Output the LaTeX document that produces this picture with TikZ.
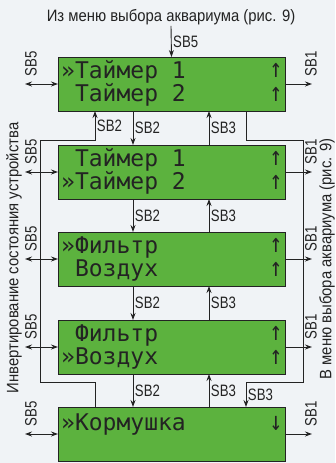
\documentclass[tikz,border=0pt]{standalone}
\usepackage{fontspec}
\setmainfont{Liberation Sans}
\newfontfamily\lcdfont{DejaVu Sans Mono}
\newfontfamily\sbfont[FakeStretch=0.8]{Liberation Sans}
\newfontfamily\notefont[FakeStretch=0.9]{Liberation Sans}
\usetikzlibrary{arrows.meta}
\definecolor{lcdgreen}{RGB}{92,178,62}
\definecolor{paper}{RGB}{240,243,246}
\definecolor{ink}{RGB}{35,35,35}
\newcommand{\tallup}{\scalebox{1}[1.25]{↑}}
\newcommand{\talldown}{\scalebox{1}[1.25]{↓}}

\begin{document}
\begin{tikzpicture}[x=1pt,y=-1pt,
    lcd/.style={draw=ink,line width=1pt,fill=lcdgreen,minimum width=227pt,
      minimum height=54pt,inner sep=0pt,outer sep=0pt},
    row/.style={font=\lcdfont\fontsize{23}{23}\selectfont,text=ink,
      inner sep=0pt,anchor=base west},
    arr/.style={font=\lcdfont\fontsize{21}{21}\selectfont,text=ink,
      inner sep=0pt,anchor=base},
    lbl/.style={font=\sbfont\fontsize{16.5}{16.5}\selectfont,text=ink,inner sep=1.5pt},
    note/.style={font=\notefont\fontsize{16.5}{16.5}\selectfont,text=ink,inner sep=1pt},
    wire/.style={draw=ink,line width=0.9pt},
    >={Stealth[length=7pt,width=5pt]}]
  \fill[paper] (0,0) rectangle (335,463);
  \useasboundingbox (0,0) rectangle (335,463);

  % the five screens
  \draw (171.5,84) node[lcd] (T1) {};
  \draw (171.5,172) node[lcd] (T2) {};
  \draw (171.5,259) node[lcd] (F1) {};
  \draw (171.5,347) node[lcd] (F2) {};
  \draw (171.5,434) node[lcd] (K) {};

  \node[row] (T1r1) at ([shift={(3,21)}]T1.north west) {»Таймер 1};
  \node[row] (T1r2) at ([shift={(3,44)}]T1.north west) {\phantom{»}Таймер 2};
  \node[arr] (T1u1) at ([shift={(-9,20)}]T1.north east) {\tallup};
  \node[arr] (T1u2) at ([shift={(-9,44)}]T1.north east) {\tallup};

  \node[row] (T2r1) at ([shift={(3,21)}]T2.north west) {\phantom{»}Таймер 1};
  \node[row] (T2r2) at ([shift={(3,44)}]T2.north west) {»Таймер 2};
  \node[arr] (T2u1) at ([shift={(-9,20)}]T2.north east) {\tallup};
  \node[arr] (T2u2) at ([shift={(-9,44)}]T2.north east) {\tallup};

  \node[row] (F1r1) at ([shift={(3,21)}]F1.north west) {»Фильтр};
  \node[row] (F1r2) at ([shift={(3,44)}]F1.north west) {\phantom{»}Воздух};
  \node[arr] (F1u1) at ([shift={(-9,20)}]F1.north east) {\tallup};
  \node[arr] (F1u2) at ([shift={(-9,44)}]F1.north east) {\tallup};

  \node[row] (F2r1) at ([shift={(3,21)}]F2.north west) {\phantom{»}Фильтр};
  \node[row] (F2r2) at ([shift={(3,44)}]F2.north west) {»Воздух};
  \node[arr] (F2u1) at ([shift={(-9,20)}]F2.north east) {\tallup};
  \node[arr] (F2u2) at ([shift={(-9,44)}]F2.north east) {\tallup};

  \node[row] (Kr1) at ([shift={(3,23)}]K.north west) {»Кормушка};
  \node[arr] (Kd1) at ([shift={(-9,23)}]K.north east) {\talldown};

  % entry from above
  \node[note] (src) at (171,17) {Из меню выбора аквариума (рис. 9)};
  \draw[wire,->] (src.south) -- (T1.north) node[lbl,midway,right] (in5) {SB5};

  % side texts
  \node[note,rotate=90] (inv) at (14,258) {Инвертирование состояния устройства};
  \node[note,rotate=90] (back) at (327,259) {В меню выбора аквариума (рис. 9)};

  \coordinate (dn) at (133,0);
  \coordinate (up) at (209,0);
  \coordinate (wl) at (95,0);
  \coordinate (wr) at (246,0);
  \coordinate (lt) at (40,140);
  \coordinate (lb) at (40,382);
  \coordinate (rt) at (303,140);
  \coordinate (rb) at (303,382);
  \coordinate (sl) at (25,0);
  \coordinate (sr) at (312,0);

  % SB2 down, SB3 up
  \draw[wire,->] (T1.south -| dn) -- (T2.north -| dn) node[lbl,midway,right] (d1) {SB2};
  \draw[wire,->] (T2.south -| dn) -- (F1.north -| dn) node[lbl,midway,right] (d2) {SB2};
  \draw[wire,->] (F1.south -| dn) -- (F2.north -| dn) node[lbl,midway,right] (d3) {SB2};
  \draw[wire,->] (F2.south -| dn) -- (K.north -| dn) node[lbl,midway,right] (d4) {SB2};
  \draw[wire,->] (T2.north -| up) -- (T1.south -| up) node[lbl,midway,right] (u1) {SB3};
  \draw[wire,->] (F1.north -| up) -- (T2.south -| up) node[lbl,midway,right] (u2) {SB3};
  \draw[wire,->] (F2.north -| up) -- (F1.south -| up) node[lbl,midway,right] (u3) {SB3};
  \draw[wire,->] (K.north -| up) -- (F2.south -| up) node[lbl,midway,right] (u4) {SB3};

  % wrap round
  \draw[wire,->] (K.north -| wl) -- (wl |- lb) -- (lb) -- (lt) -- (wl |- lt)
    -- (T1.south -| wl) node[lbl,midway,right] (w1) {SB2};
  \draw[wire,->] (T1.south -| wr) -- (wr |- rt) -- (rt) -- (rb) -- (wr |- rb)
    -- (K.north -| wr) node[lbl,midway,right] (w2) {SB3};

  % SB5 left, SB1 right
  \draw[wire,<->] (T1.west -| sl) -- (T1.west);
  \draw[wire,<->] (T2.west -| sl) -- (T2.west);
  \draw[wire,<->] (F1.west -| sl) -- (F1.west);
  \draw[wire,<->] (F2.west -| sl) -- (F2.west);
  \draw[wire,<->] (K.west -| sl) -- (K.west);
  \node[lbl,rotate=90,anchor=west] (s1) at ([shift={(6,-6)}]T1.west -| sl) {SB5};
  \node[lbl,rotate=90,anchor=west] (s2) at ([shift={(6,-6)}]T2.west -| sl) {SB5};
  \node[lbl,rotate=90,anchor=west] (s3) at ([shift={(6,-6)}]F1.west -| sl) {SB5};
  \node[lbl,rotate=90,anchor=west] (s4) at ([shift={(6,-6)}]F2.west -| sl) {SB5};
  \node[lbl,rotate=90,anchor=west] (s5) at ([shift={(6,-6)}]K.west -| sl) {SB5};

  \draw[wire,->] (T1.east) -- (T1.east -| sr);
  \draw[wire,->] (T2.east) -- (T2.east -| sr);
  \draw[wire,->] (F1.east) -- (F1.east -| sr);
  \draw[wire,->] (F2.east) -- (F2.east -| sr);
  \draw[wire,->] (K.east) -- (K.east -| sr);
  \node[lbl,rotate=90,anchor=west] (e1) at ([shift={(-1,-6)}]T1.east -| sr) {SB1};
  \node[lbl,rotate=90,anchor=west] (e2) at ([shift={(-1,-6)}]T2.east -| sr) {SB1};
  \node[lbl,rotate=90,anchor=west] (e3) at ([shift={(-1,-6)}]F1.east -| sr) {SB1};
  \node[lbl,rotate=90,anchor=west] (e4) at ([shift={(-1,-6)}]F2.east -| sr) {SB1};
  \node[lbl,rotate=90,anchor=west] (e5) at ([shift={(-1,-6)}]K.east -| sr) {SB1};
\end{tikzpicture}
\end{document}
